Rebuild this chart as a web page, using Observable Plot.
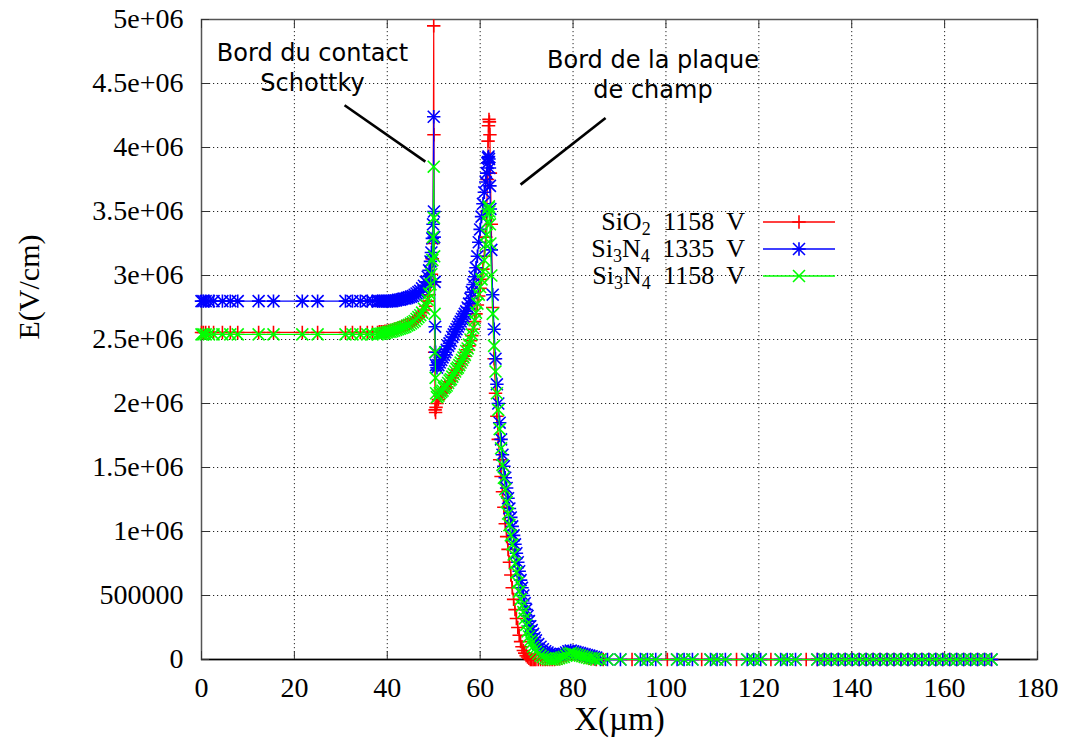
<!DOCTYPE html>
<html>
<head>
<meta charset="utf-8">
<script src="https://cdn.jsdelivr.net/npm/d3@7"></script>
<script src="https://cdn.jsdelivr.net/npm/@observablehq/plot@0.6"></script>
<style>
  html, body { margin: 0; padding: 0; background: #fff; }
  #chart { width: 1070px; height: 747px; }
</style>
</head>
<body>
<div id="chart"></div>
<script>
// ---------- tick labels ----------
const xTicks = [0, 20, 40, 60, 80, 100, 120, 140, 160, 180];
const xTickLabels = ["0", "20", "40", "60", "80", "100", "120", "140", "160", "180"];
const yTicks = [0, 500000, 1000000, 1500000, 2000000, 2500000, 3000000, 3500000, 4000000, 4500000, 5000000];
const yTickLabels = ["0", "500000", "1e+06", "1.5e+06", "2e+06", "2.5e+06", "3e+06", "3.5e+06", "4e+06", "4.5e+06", "5e+06"];

// ---------- x meshes (µm) ----------
const xLeft  = [0, 0.4, 0.9, 1.6, 2.6, 4.5, 6.2, 7.8, 12.3, 15.5, 21.7, 25.0, 31.0, 32.5, 34.2, 35.7, 36.8, 37.9];
const xRise  = [38.3, 38.7, 39.1, 39.5, 39.9, 40.3, 40.7, 41.1, 41.5, 41.9, 42.3, 42.7, 43.1, 43.5, 43.9, 44.3,
                44.7, 45.1, 45.5, 45.9, 46.3, 46.7, 47.1, 47.5, 47.9, 48.3, 48.7, 49.0, 49.3, 49.5, 49.7, 49.85];
const xSpike = [50.0, 50.05, 50.1, 50.2, 50.3, 50.4, 50.5];
const xRamp  = [50.7, 51.0, 51.3, 51.6, 51.9, 52.2, 52.5, 52.8, 53.1, 53.4, 53.7, 54.0, 54.3, 54.6, 54.9, 55.2,
                55.5, 55.8, 56.1, 56.4, 56.7, 57.0, 57.3, 57.6, 57.9, 58.2, 58.5, 58.8, 59.1, 59.4, 59.7, 60.0,
                60.3, 60.6, 60.9, 61.2, 61.4];
const xPeak  = [61.6, 61.7, 61.8, 61.9, 62.0, 62.1, 62.2];
const xFall  = [62.4, 62.7, 63.0, 63.3, 63.6, 63.9, 64.2, 64.5, 64.8, 65.1, 65.4, 65.7, 66.0, 66.3, 66.6, 66.9,
                67.2, 67.5, 67.8, 68.1, 68.4, 68.7, 69.0, 69.3, 69.6, 69.9, 70.2, 70.5, 70.8, 71.1, 71.4, 71.7, 72.0];
const xFoot  = [72.5, 73, 73.5, 74, 74.5, 75, 75.5, 76, 76.5, 77, 77.5, 78, 78.5, 79, 79.5, 80, 80.5, 81, 81.5,
                82, 82.5, 83, 83.5, 84, 84.5, 85];
const xTailSi3N4 = [85.9, 87.4, 90.2, 94.5, 96.0, 97.8, 102.4, 103.9, 105.7, 109.6, 111.0, 112.8, 117.5, 118.9,
                120.4, 124.7, 126.1, 127.9, 132.6, 134.1, 135.6, 137.1, 138.6, 140.1, 141.6, 143.1, 144.6, 146.1,
                147.6, 149.1, 150.6, 152.1, 153.6, 155.1, 156.6, 158.1, 159.6, 161.1, 162.6, 164.1, 165.6, 167.1,
                168.6, 170.1];
const xTailSiO2 = [86.5, 92.7, 100.3, 107.7, 115.2, 122.6, 130.2, 132.6, 134.1, 135.6, 137.1, 138.6, 140.1, 141.6,
                143.1, 144.6, 146.1, 147.6, 149.1, 150.6, 152.1, 153.6, 155.1, 156.6, 158.1, 159.6, 161.1, 162.6,
                164.1, 165.6, 167.1, 168.6, 170.1];

// ---------- E values (in 1e6 V/cm), one per mesh point ----------
// SiO2 1158 V
const eSiO2_1158 = [
  2.555, 2.555, 2.555, 2.555, 2.555, 2.555, 2.555, 2.555, 2.555, 2.555, 2.555, 2.555, 2.555, 2.555, 2.555, 2.555, 2.555, 2.555,
  2.56, 2.56, 2.56, 2.565, 2.565, 2.57, 2.57, 2.575, 2.58, 2.585, 2.59, 2.595, 2.60, 2.605, 2.61, 2.615,
  2.62, 2.63, 2.64, 2.65, 2.66, 2.675, 2.69, 2.71, 2.73, 2.76, 2.80, 2.85, 2.93, 3.01, 3.13, 3.25,
  4.95, 4.10, 2.95, 2.40, 1.95, 1.93, 1.97,
  2.00, 2.03, 2.06, 2.08, 2.09, 2.11, 2.12, 2.13, 2.15, 2.17, 2.18, 2.20, 2.22, 2.24, 2.26, 2.27,
  2.29, 2.31, 2.33, 2.35, 2.37, 2.40, 2.42, 2.45, 2.49, 2.53, 2.58, 2.64, 2.70, 2.77, 2.84, 2.90,
  2.97, 3.05, 3.15, 3.30, 3.50,
  3.75, 4.05, 4.17, 4.22, 4.20, 4.10, 3.80,
  3.40, 2.75, 2.35, 2.08, 1.90, 1.72, 1.56, 1.43, 1.31, 1.19, 1.06, 0.96, 0.86, 0.76, 0.66, 0.56,
  0.47, 0.39, 0.32, 0.25, 0.19, 0.14, 0.10, 0.07, 0.05, 0.03, 0.02, 0.01, 0, 0, 0, 0, 0,
  0, 0, 0, 0, 0, 0, 0, 0, 0.005, 0.005, 0.01, 0.02, 0.03, 0.045, 0.05, 0.045, 0.04, 0.035, 0.03,
  0.025, 0.02, 0.015, 0.01, 0.005, 0.005, 0
];
const eTailSiO2 = [0, 0, 0, 0, 0, 0, 0, 0, 0, 0, 0, 0, 0, 0, 0, 0, 0, 0, 0, 0, 0, 0, 0, 0, 0, 0, 0, 0, 0, 0, 0, 0, 0];

// Si3N4 1335 V
const eSi3N4_1335 = [
  2.80, 2.80, 2.80, 2.80, 2.80, 2.80, 2.80, 2.80, 2.80, 2.80, 2.80, 2.80, 2.80, 2.80, 2.80, 2.80, 2.80, 2.80,
  2.80, 2.80, 2.80, 2.80, 2.80, 2.80, 2.80, 2.80, 2.805, 2.805, 2.81, 2.81, 2.815, 2.82, 2.82, 2.825,
  2.83, 2.835, 2.84, 2.85, 2.86, 2.87, 2.88, 2.90, 2.92, 2.95, 2.99, 3.04, 3.11, 3.18, 3.29, 3.40,
  4.24, 3.50, 3.30, 2.95, 2.60, 2.40, 2.30,
  2.28, 2.30, 2.32, 2.34, 2.36, 2.38, 2.40, 2.42, 2.45, 2.47, 2.49, 2.52, 2.54, 2.56, 2.58, 2.60,
  2.62, 2.64, 2.66, 2.68, 2.70, 2.72, 2.75, 2.78, 2.82, 2.87, 2.93, 2.99, 3.06, 3.15, 3.26, 3.36,
  3.46, 3.56, 3.65, 3.73, 3.80,
  3.88, 3.92, 3.93, 3.91, 3.84, 3.70, 3.52,
  3.20, 2.85, 2.58, 2.35, 2.15, 2.00, 1.85, 1.72, 1.60, 1.51, 1.42, 1.34, 1.26, 1.18, 1.11, 1.04,
  0.97, 0.90, 0.83, 0.76, 0.69, 0.62, 0.56, 0.50, 0.44, 0.39, 0.34, 0.30, 0.26, 0.23, 0.20, 0.17, 0.15,
  0.12, 0.10, 0.08, 0.065, 0.055, 0.045, 0.04, 0.035, 0.035, 0.035, 0.04, 0.045, 0.055, 0.065, 0.07,
  0.065, 0.06, 0.055, 0.05, 0.045, 0.04, 0.035, 0.03, 0.025, 0.02, 0.015
];
// Si3N4 1158 V
const eSi3N4_1158 = [
  2.54, 2.54, 2.54, 2.54, 2.54, 2.54, 2.54, 2.54, 2.54, 2.54, 2.54, 2.54, 2.54, 2.54, 2.54, 2.54, 2.54, 2.54,
  2.545, 2.545, 2.55, 2.55, 2.555, 2.56, 2.56, 2.565, 2.57, 2.575, 2.58, 2.585, 2.59, 2.595, 2.60, 2.61,
  2.615, 2.625, 2.635, 2.645, 2.66, 2.675, 2.69, 2.71, 2.74, 2.77, 2.81, 2.86, 2.93, 3.01, 3.12, 3.30,
  3.85, 3.45, 3.15, 2.70, 2.40, 2.20, 2.08,
  2.05, 2.06, 2.08, 2.09, 2.10, 2.12, 2.13, 2.14, 2.16, 2.18, 2.19, 2.21, 2.23, 2.25, 2.27, 2.28,
  2.30, 2.32, 2.34, 2.36, 2.38, 2.41, 2.43, 2.46, 2.50, 2.54, 2.59, 2.65, 2.71, 2.78, 2.85, 2.91,
  2.97, 3.03, 3.12, 3.24, 3.32,
  3.42, 3.48, 3.53, 3.54, 3.50, 3.40, 3.25,
  3.00, 2.70, 2.45, 2.25, 2.08, 1.95, 1.80, 1.65, 1.52, 1.42, 1.33, 1.23, 1.14, 1.05, 0.97, 0.90,
  0.82, 0.75, 0.68, 0.60, 0.53, 0.47, 0.42, 0.37, 0.32, 0.27, 0.22, 0.18, 0.15, 0.13, 0.10, 0.08, 0.06,
  0.045, 0.03, 0.02, 0.01, 0.005, 0, 0, 0, 0.005, 0.01, 0.015, 0.02, 0.03, 0.045, 0.05,
  0.045, 0.04, 0.035, 0.03, 0.025, 0.02, 0.015, 0.01, 0.01, 0.005, 0
];
const eTailSi3N4_1335 = [0, 0, 0, 0, 0, 0, 0, 0, 0, 0, 0, 0, 0, 0, 0, 0, 0, 0, 0, 0, 0, 0, 0, 0, 0, 0, 0, 0, 0, 0, 0, 0, 0, 0, 0, 0, 0, 0, 0, 0, 0, 0, 0, 0];
const eTailSi3N4_1158 = [0, 0, 0, 0, 0, 0, 0, 0, 0, 0, 0, 0, 0, 0, 0, 0, 0, 0, 0, 0, 0, 0, 0, 0, 0, 0, 0, 0, 0, 0, 0, 0, 0, 0, 0, 0, 0, 0, 0, 0, 0, 0, 0, 0];

// ---------- annotations ----------
const annotTexts = [
  {x: 23.9, E: 4.736e6, label: "Bord du contact"},
  {x: 23.9, E: 4.50e6,  label: "Schottky"},
  {x: 97.2, E: 4.685e6, label: "Bord de la plaque"},
  {x: 97.2, E: 4.45e6,  label: "de champ"}
];
const annotLines = [
  {x1: 30.8, E1: 4.33e6, x2: 48.2, E2: 3.89e6},
  {x1: 87.0, E1: 4.23e6, x2: 68.7, E2: 3.71e6}
];

// ---------- series ----------
const seriesNames = ["SiO2 1158 V", "Si3N4 1335 V", "Si3N4 1158 V"];
const seriesColors = ["#ff0000", "#0000ff", "#00ff00"];

const xMain = [...xLeft, ...xRise, ...xSpike, ...xRamp, ...xPeak, ...xFall, ...xFoot];
function rows(name, xs, es) { return xs.map((x, i) => ({series: name, x, E: es[i] * 1e6})); }
const dSiO2 = rows(seriesNames[0], [...xMain, ...xTailSiO2], [...eSiO2_1158, ...eTailSiO2]);
const dN1335 = rows(seriesNames[1], [...xMain, ...xTailSi3N4], [...eSi3N4_1335, ...eTailSi3N4_1335]);
const dN1158 = rows(seriesNames[2], [...xMain, ...xTailSi3N4], [...eSi3N4_1158, ...eTailSi3N4_1158]);

const serif = "'Liberation Serif', 'Times New Roman', serif";
const sans = "'DejaVu Sans', Verdana, sans-serif";
const R_PLUS = 4.4, R_TIMES = 5.5, SW = 1.6;

const plot = Plot.plot({
  width: 1070,
  height: 747,
  marginLeft: 201,
  marginRight: 33,
  marginTop: 19,
  marginBottom: 88,
  style: {fontFamily: serif, background: "#fff", overflow: "visible"},
  x: {domain: [0, 180], label: null},
  y: {domain: [0, 5e6], label: null},
  marks: [
    Plot.gridX(xTicks.slice(1, -1), {stroke: "#000", strokeOpacity: 0.85, strokeDasharray: "1.2,2.8"}),
    Plot.gridY(yTicks.slice(1, -1), {stroke: "#000", strokeOpacity: 0.85, strokeDasharray: "1.2,2.8"}),
    Plot.frame({stroke: "#555", strokeWidth: 1.5}),
    Plot.ruleY([0], {stroke: "#000", strokeWidth: 1.5}),
    // inward ticks on all four sides
    Plot.axisX(xTicks, {anchor: "bottom", tickSize: -8, tickFormat: () => "", label: null, stroke: "#333"}),
    Plot.axisX(xTicks, {anchor: "top", tickSize: -8, tickFormat: () => "", label: null, stroke: "#333"}),
    Plot.axisY(yTicks, {anchor: "left", tickSize: -8, tickFormat: () => "", label: null, stroke: "#333"}),
    Plot.axisY(yTicks, {anchor: "right", tickSize: -8, tickFormat: () => "", label: null, stroke: "#333"}),
    // tick labels
    Plot.axisX(xTicks, {anchor: "bottom", tickSize: 0, tickPadding: 18, fontSize: 28, fontFamily: serif,
      tickFormat: d => xTickLabels[xTicks.indexOf(d)], label: null}),
    Plot.axisY(yTicks, {anchor: "left", tickSize: 0, tickPadding: 18, fontSize: 28, fontFamily: serif,
      tickFormat: d => yTickLabels[yTicks.indexOf(d)], label: null}),
    // axis titles
    Plot.text(["X(µm)"], {frameAnchor: "bottom", dy: 70, fontSize: 33, fontFamily: serif, fill: "#000"}),
    Plot.text(["E(V/cm)"], {frameAnchor: "left", dx: -172, rotate: -90, fontSize: 30, fontFamily: serif, fill: "#000"}),
    // SiO2 1158 V
    Plot.line(dSiO2, {x: "x", y: "E", stroke: seriesColors[0], strokeWidth: 1.2}),
    Plot.dot(dSiO2, {x: "x", y: "E", symbol: "plus", r: R_PLUS, stroke: seriesColors[0], strokeWidth: SW}),
    // Si3N4 1335 V
    Plot.line(dN1335, {x: "x", y: "E", stroke: seriesColors[1], strokeWidth: 1.2}),
    Plot.dot(dN1335, {x: "x", y: "E", symbol: "plus", r: R_PLUS, stroke: seriesColors[1], strokeWidth: SW}),
    Plot.dot(dN1335, {x: "x", y: "E", symbol: "times", r: R_TIMES, stroke: seriesColors[1], strokeWidth: SW}),
    // Si3N4 1158 V
    Plot.line(dN1158, {x: "x", y: "E", stroke: seriesColors[2], strokeWidth: 1.2}),
    Plot.dot(dN1158, {x: "x", y: "E", symbol: "times", r: R_TIMES, stroke: seriesColors[2], strokeWidth: SW}),
    // annotations
    Plot.link(annotLines, {x1: "x1", y1: "E1", x2: "x2", y2: "E2", stroke: "#000", strokeWidth: 2.6}),
    Plot.text(annotTexts, {x: "x", y: "E", text: "label", fontSize: 24, fontFamily: sans, fill: "#000"})
  ]
});

// ---------- legend (inside plot, top right) ----------
const svg = d3.select(plot);
const legendRows = [
  {parts: [["SiO", 0], ["2", 1], [" 1158 V", 0]], color: seriesColors[0], symbols: [[d3.symbolPlus, R_PLUS]]},
  {parts: [["Si", 0], ["3", 1], ["N", 0], ["4", 1], [" 1335 V", 0]], color: seriesColors[1],
    symbols: [[d3.symbolPlus, R_PLUS], [d3.symbolTimes, R_TIMES]]},
  {parts: [["Si", 0], ["3", 1], ["N", 0], ["4", 1], [" 1158 V", 0]], color: seriesColors[2],
    symbols: [[d3.symbolTimes, R_TIMES]]}
];
const lg = svg.append("g").attr("class", "legend");
const textRight = 745, lineX1 = 763, lineX2 = 835, rowY0 = 222, rowStep = 27;
legendRows.forEach((row, i) => {
  const cy = rowY0 + i * rowStep;
  const t = lg.append("text").attr("x", textRight).attr("y", cy + 8)
    .attr("text-anchor", "end").attr("font-family", serif).attr("font-size", 26)
    .attr("word-spacing", 6).attr("fill", "#000");
  let sub = 0;
  row.parts.forEach(([s, isSub]) => {
    const ts = t.append("tspan").text(s);
    if (isSub && !sub) { ts.attr("dy", 5).attr("font-size", 18); sub = 1; }
    else if (!isSub && sub) { ts.attr("dy", -5); sub = 0; }
    else if (isSub) { ts.attr("font-size", 18); }
  });
  lg.append("line").attr("x1", lineX1).attr("x2", lineX2).attr("y1", cy).attr("y2", cy)
    .attr("stroke", row.color).attr("stroke-width", 1.5);
  row.symbols.forEach(([sym, r]) => {
    lg.append("path").attr("d", d3.symbol(sym, Math.PI * r * r)())
      .attr("transform", `translate(${(lineX1 + lineX2) / 2},${cy})`)
      .attr("fill", "none").attr("stroke", row.color).attr("stroke-width", SW);
  });
});

document.getElementById("chart").appendChild(plot);
</script>
</body>
</html>
